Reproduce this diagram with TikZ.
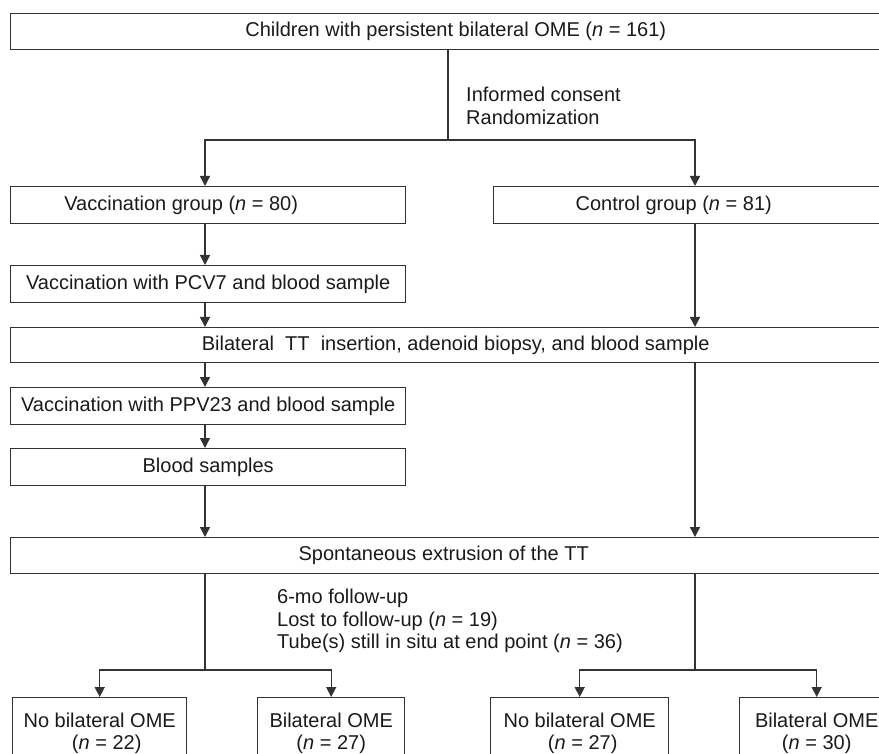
\documentclass[tikz,border=0pt]{standalone}
\usepackage{fontspec}
\setmainfont{Liberation Sans}
\usetikzlibrary{arrows.meta}
\definecolor{lc}{HTML}{333333}
\definecolor{tc}{HTML}{1A1A1A}
\begin{document}
\begin{tikzpicture}[x=1pt,y=-1pt,
  txt/.style={text=tc, font=\fontsize{20}{22.5}\selectfont, inner sep=0pt},
  box/.style={txt, draw=lc, line width=1.4pt, anchor=north west},
  conn/.style={draw=lc, line width=1.4pt},
  arr/.style={conn, -{Triangle[width=10pt,length=10pt]}},
  arrs/.style={conn, {Triangle[width=10pt,length=10pt]}-{Triangle[width=10pt,length=10pt]}}]
\useasboundingbox (0,0) rectangle (879,754);
\clip (0,0) rectangle (879,754);
% boxes
\node[box, minimum width=890pt, minimum height=36pt] (top) at (10,13)
  {Children with persistent bilateral OME (\textit{n} = 161)};
\node[box, minimum width=395pt, minimum height=37pt] (vacc) at (10,186)
  {Vaccination group (\textit{n} = 80)\hspace*{54pt}};
\node[box, minimum width=410pt, minimum height=37pt] (ctrl) at (493,186)
  {Control group (\textit{n} = 81)\hspace*{50pt}};
\node[box, minimum width=395pt, minimum height=37pt] (pcv) at (10,265)
  {Vaccination with PCV7 and blood sample};
\node[box, minimum width=890pt, minimum height=35pt] (tt) at (10,327)
  {Bilateral\ \ TT\ \ insertion, adenoid biopsy, and blood sample};
\node[box, minimum width=395pt, minimum height=37pt] (ppv) at (10,387)
  {Vaccination with PPV23 and blood sample};
\node[box, minimum width=395pt, minimum height=37pt] (blood) at (10,448)
  {Blood samples};
\node[box, minimum width=890pt, minimum height=36pt] (spont) at (10,537)
  {Spontaneous extrusion of the TT\hspace*{24pt}};
\node[box, align=center, minimum width=174pt, minimum height=71pt] (b1) at (12,697)
  {No bilateral OME\\\hspace*{14pt}(\textit{n} = 22)};
\node[box, align=center, minimum width=147pt, minimum height=71pt] (b2) at (257,697)
  {Bilateral OME\\(\textit{n} = 27)};
\node[box, align=center, minimum width=178pt, minimum height=71pt] (b3) at (490,697)
  {No bilateral OME\\\hspace*{6pt}(\textit{n} = 27)};
\node[box, align=center, minimum width=154pt, minimum height=71pt] (b4) at (739,697)
  {Bilateral OME\\(\textit{n} = 30)};
% free text
\node[txt, align=left, anchor=north west] (cons) at (466,87)
  {Informed consent\\Randomization};
\node[txt, align=left, anchor=north west] (fu) at (277,589)
  {6-mo follow-up\\Lost to follow-up (\textit{n} = 19)\\Tube(s) still in situ at end point (\textit{n} = 36)};
% helper coordinates
\coordinate (split) at (448,140);
\coordinate (lx) at (205,0);
\coordinate (rx) at (695,0);
\coordinate (ly) at (0,670);
% connectors
\draw[conn] (top.south -| split) -- (split);
\draw[arrs] (lx|-vacc.north) -- (lx|-split) -- (rx|-split) -- (rx|-ctrl.north);
\draw[arr] (lx|-vacc.south) -- (lx|-pcv.north);
\draw[arr] (lx|-pcv.south) -- (lx|-tt.north);
\draw[arr] (rx|-ctrl.south) -- (rx|-tt.north);
\draw[arr] (lx|-tt.south) -- (lx|-ppv.north);
\draw[arr] (lx|-ppv.south) -- (lx|-blood.north);
\draw[arr] (lx|-blood.south) -- (lx|-spont.north);
\draw[arr] (rx|-tt.south) -- (rx|-spont.north);
\draw[conn] (lx|-spont.south) -- (lx|-ly);
\draw[conn] (rx|-spont.south) -- (rx|-ly);
\draw[arrs] (b1.north) -- (b1.north|-ly) -- (b2.north|-ly) -- (b2.north);
\draw[arrs] (b3.north) -- (b3.north|-ly) -- (b4.north|-ly) -- (b4.north);
\end{tikzpicture}
\end{document}
